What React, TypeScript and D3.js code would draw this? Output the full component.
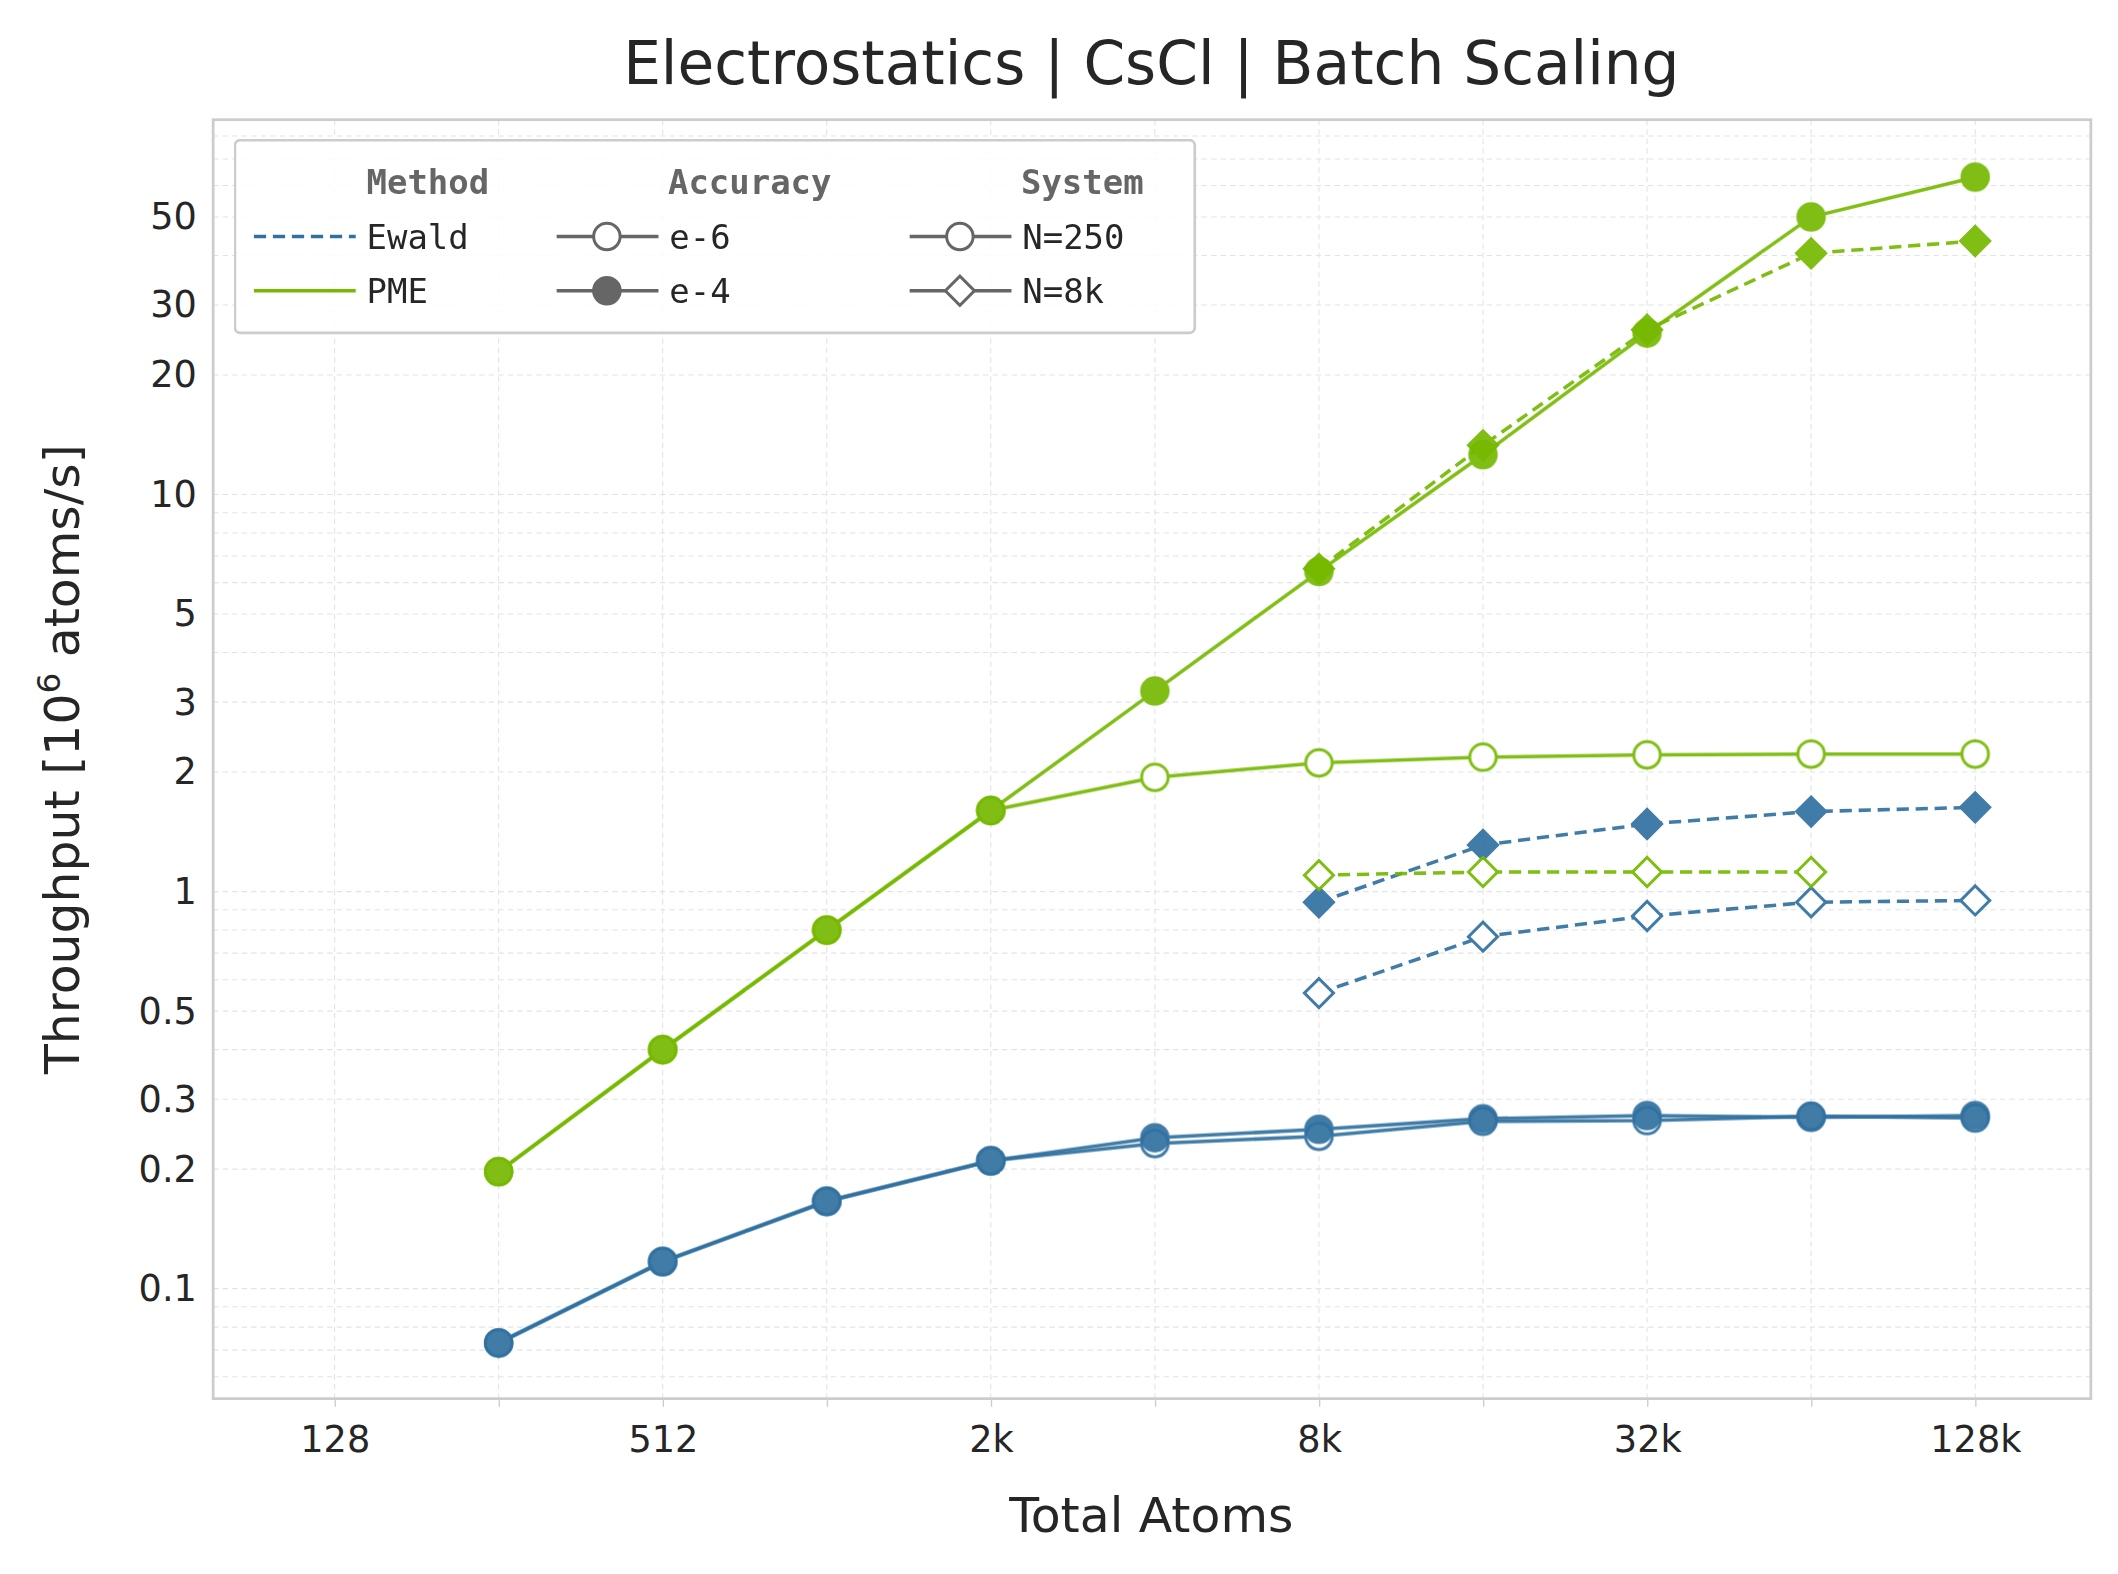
import React, { useEffect, useRef } from "react";
import * as d3 from "d3";

const atoms = [256, 512, 1024, 2048, 4096, 8192, 16384, 32768, 65536, 131072];
const atoms8k = [8192, 16384, 32768, 65536, 131072];

const pmeE4N250 = [0.197, 0.4, 0.8, 1.6, 3.2, 6.4, 12.6, 25.5, 50, 63];
const pmeE6N250 = [0.197, 0.4, 0.8, 1.6, 1.94, 2.11, 2.18, 2.21, 2.22, 2.22];
const ewaldE4N250 = [0.073, 0.117, 0.166, 0.21, 0.24, 0.252, 0.268, 0.273, 0.27, 0.273];
const ewaldE6N250 = [0.073, 0.117, 0.166, 0.21, 0.232, 0.242, 0.264, 0.265, 0.272, 0.269];
const pmeE4N8k = [6.5, 13.3, 26, 40.5, 43.5];
const pmeE6N8k = [1.1, 1.12, 1.12, 1.12];
const ewaldE4N8k = [0.94, 1.31, 1.48, 1.59, 1.63];
const ewaldE6N8k = [0.555, 0.77, 0.868, 0.94, 0.95];

const yTicks = [0.1, 0.2, 0.3, 0.5, 1, 2, 3, 5, 10, 20, 30, 50];
const xLabels = ["128", "", "512", "", "2k", "", "8k", "", "32k", "", "128k"];
const xTickVals = [128, 256, 512, 1024, 2048, 4096, 8192, 16384, 32768, 65536, 131072];

const EWALD = "#3071a0";
const PME = "#76b900";

export default function App() {
  const ref = useRef<SVGSVGElement>(null);

  useEffect(() => {
    const svg = d3.select(ref.current);
    svg.selectAll("*").remove();
    const L = 157, R = 1540, T = 88, B = 1030;
    const x = d3.scaleLog().base(2).domain([Math.pow(2, 6.26), Math.pow(2, 17.705)]).range([L, R]);
    const y = d3.scaleLog().domain([Math.pow(10, -1.277), Math.pow(10, 1.944)]).range([B, T]);

    svg.append("rect").attr("x", 0).attr("y", 0).attr("width", 1560).attr("height", 1159).attr("fill", "#fff");

    // grid
    const minor: number[] = [];
    for (let e = -2; e <= 2; e++) for (let m = 1; m < 10; m++) {
      const v = m * Math.pow(10, e);
      if (v >= y.domain()[0] && v <= y.domain()[1]) minor.push(v);
    }
    svg.append("g").selectAll("line").data(minor).join("line")
      .attr("x1", L).attr("x2", R).attr("y1", (d) => y(d)).attr("y2", (d) => y(d))
      .attr("stroke", "#e3e3e3").attr("stroke-width", 0.8).attr("stroke-dasharray", "4,3");
    svg.append("g").selectAll("line").data(xTickVals).join("line")
      .attr("y1", T).attr("y2", B).attr("x1", (d) => x(d)).attr("x2", (d) => x(d))
      .attr("stroke", "#e3e3e3").attr("stroke-width", 0.8).attr("stroke-dasharray", "4,3");

    svg.append("rect").attr("x", L).attr("y", T).attr("width", R - L).attr("height", B - T)
      .attr("fill", "none").attr("stroke", "#cccccc").attr("stroke-width", 2);

    // axes
    const ya = svg.append("g").attr("transform", `translate(${L},0)`)
      .call(d3.axisLeft(y).tickValues(yTicks).tickFormat((d) => String(d)).tickSize(0).tickPadding(12));
    ya.select(".domain").remove();
    ya.selectAll("text").attr("font-size", 27).attr("fill", "#262626").attr("font-family", "DejaVu Sans");
    const xa = svg.append("g").attr("transform", `translate(0,${B})`)
      .call(d3.axisBottom(x).tickValues(xTickVals).tickFormat((d, i) => xLabels[i]).tickSize(6).tickPadding(14));
    xa.select(".domain").remove();
    xa.selectAll("line").attr("stroke", "#cccccc");
    xa.selectAll("text").attr("font-size", 27).attr("fill", "#262626").attr("font-family", "DejaVu Sans");

    const txt = (tx: number, ty: number, s: string, size: number, rot = 0) =>
      svg.append("text").attr("transform", `translate(${tx},${ty}) rotate(${rot})`)
        .attr("text-anchor", "middle").attr("font-family", "DejaVu Sans").attr("font-size", size)
        .attr("fill", "#262626").text(s);
    txt(848, 62, "Electrostatics | CsCl | Batch Scaling", 44);
    txt(848, 1128, "Total Atoms", 36);
    const yl = txt(58, 559, "", 36, -90);
    yl.append("tspan").text("Throughput [10");
    yl.append("tspan").attr("font-size", 24).attr("dy", -14).text("6");
    yl.append("tspan").attr("dy", 14).text(" atoms/s]");

    const series = [
      { xs: atoms, v: ewaldE6N250, c: EWALD, fill: false, shape: "circle", dash: "" },
      { xs: atoms, v: ewaldE4N250, c: EWALD, fill: true, shape: "circle", dash: "" },
      { xs: atoms8k, v: ewaldE6N8k, c: EWALD, fill: false, shape: "diamond", dash: "9,5" },
      { xs: atoms8k, v: ewaldE4N8k, c: EWALD, fill: true, shape: "diamond", dash: "9,5" },
      { xs: atoms8k.slice(0, 4), v: pmeE6N8k, c: PME, fill: false, shape: "diamond", dash: "9,5" },
      { xs: atoms8k, v: pmeE4N8k, c: PME, fill: true, shape: "diamond", dash: "9,5" },
      { xs: atoms, v: pmeE6N250, c: PME, fill: false, shape: "circle", dash: "" },
      { xs: atoms, v: pmeE4N250, c: PME, fill: true, shape: "circle", dash: "" },
    ];
    const line = d3.line<[number, number]>().x((d) => x(d[0])).y((d) => y(d[1]));
    const sym = (s: string) => d3.symbol().type(s === "circle" ? d3.symbolCircle : d3.symbolSquare).size(s === "circle" ? 300 : 230)();
    const rot = (s: string) => (s === "diamond" ? " rotate(45)" : "");
    series.forEach((s) => {
      const pts = s.xs.map((a, i) => [a, s.v[i]] as [number, number]);
      const g = svg.append("g").attr("opacity", 0.92);
      g.append("path").datum(pts).attr("d", line).attr("fill", "none").attr("stroke", s.c)
        .attr("stroke-width", 2.6).attr("stroke-dasharray", s.dash || null);
      g.selectAll("path.m").data(pts).join("path").attr("class", "m")
        .attr("transform", (d) => `translate(${x(d[0])},${y(d[1])})${rot(s.shape)}`)
        .attr("d", sym(s.shape)).attr("fill", s.fill ? s.c : "#fff").attr("stroke", s.c).attr("stroke-width", 2.2);
    });

    // legend
    const lg = svg.append("g");
    lg.append("rect").attr("x", 173).attr("y", 103).attr("width", 707).attr("height", 142).attr("rx", 4)
      .attr("fill", "#fff").attr("fill-opacity", 0.85).attr("stroke", "#cccccc").attr("stroke-width", 2);
    const lt = (tx: number, ty: number, s: string, bold = false) =>
      lg.append("text").attr("x", tx).attr("y", ty).attr("font-family", "DejaVu Sans Mono").attr("font-size", 25)
        .attr("font-weight", bold ? "bold" : "normal").attr("fill", bold ? "#666" : "#262626").text(s);
    lt(270, 143, "Method", true); lt(492, 143, "Accuracy", true); lt(752, 143, "System", true);
    const rows = [183, 223];
    const items = [
      { x0: 187, label: "Ewald", c: EWALD, dash: "9,5", m: "", f: false },
      { x0: 187, label: "PME", c: PME, dash: "", m: "", f: false },
      { x0: 410, label: "e-6", c: "#666", dash: "", m: "circle", f: false },
      { x0: 410, label: "e-4", c: "#666", dash: "", m: "circle", f: true },
      { x0: 670, label: "N=250", c: "#666", dash: "", m: "circle", f: false },
      { x0: 670, label: "N=8k", c: "#666", dash: "", m: "diamond", f: false },
    ];
    items.forEach((it, i) => {
      const ry = rows[i % 2] - 9;
      lg.append("line").attr("x1", it.x0).attr("x2", it.x0 + 75).attr("y1", ry).attr("y2", ry)
        .attr("stroke", it.c).attr("stroke-width", 2.6).attr("stroke-dasharray", it.dash || null);
      if (it.m) lg.append("path").attr("d", sym(it.m))
        .attr("transform", `translate(${it.x0 + 37},${ry})${rot(it.m)}`)
        .attr("fill", it.f ? it.c : "#fff").attr("stroke", it.c).attr("stroke-width", 2.2);
      lt(it.x0 + 83, rows[i % 2], it.label);
    });
  }, []);

  return (
    <svg ref={ref} width={2118} height={1574} viewBox="0 0 1560 1159"
      style={{ position: "absolute", left: 0, top: 0, display: "block" }} />
  );
}
